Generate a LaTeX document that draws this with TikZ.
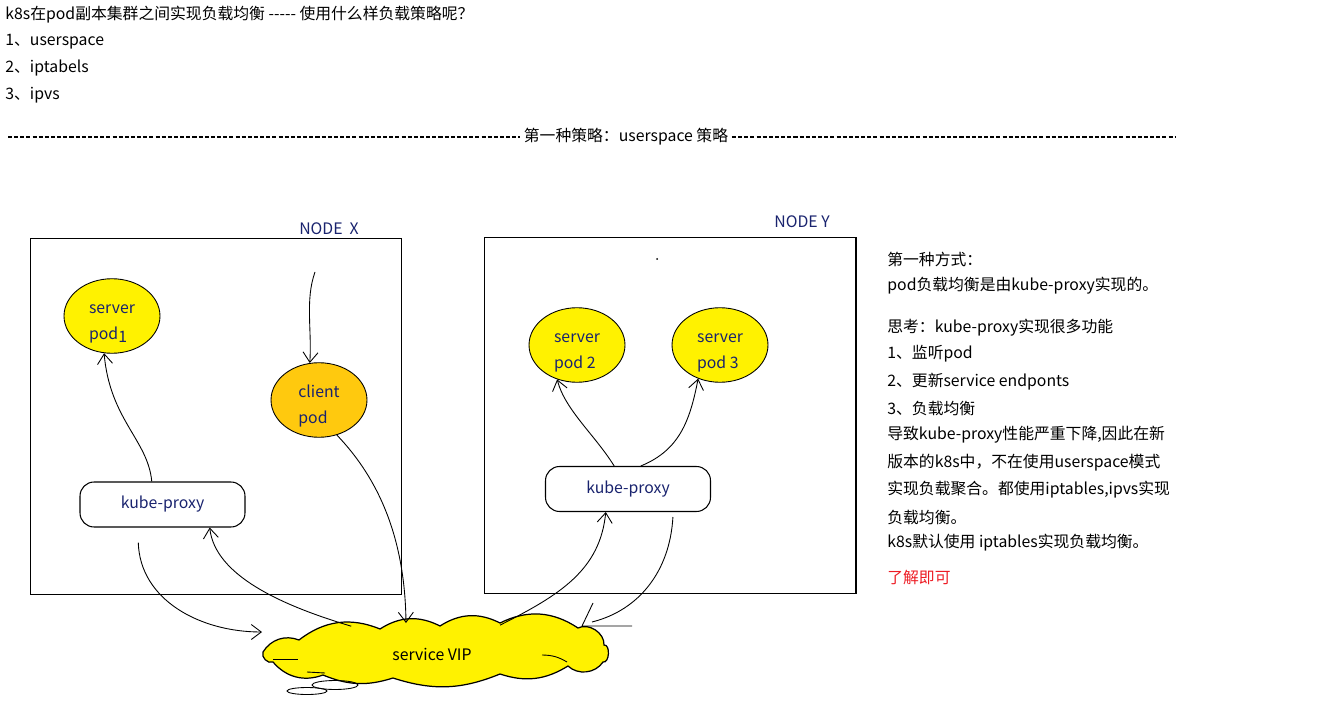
\documentclass[tikz,border=0pt]{standalone}
\usepackage{fontspec}
\setmainfont{Noto Sans CJK SC}
\usetikzlibrary{positioning,shapes.geometric,arrows.meta}
\definecolor{podyellow}{RGB}{255,242,0}
\definecolor{podorange}{RGB}{255,201,14}
\definecolor{podtext}{RGB}{25,35,110}
\definecolor{notered}{RGB}{237,28,36}
% two lines of pod text, drawn a little lower than centre
\newcommand{\podlines}[2]{\raisebox{-2.8pt}[\height][\depth]{\begin{tabular}{@{}l@{}}#1\\#2\end{tabular}}}
\tikzset{
  note/.style={anchor=west, inner sep=0pt, font=\fontsize{9}{11}\selectfont},
  pod/.style={ellipse, draw, fill=podyellow, line width=0.5pt, minimum width=1.92cm, minimum height=1.32cm,
    inner sep=0pt, text=podtext, font=\fontsize{9}{15}\selectfont},
  proxy/.style={draw, line width=0.6pt, rounded corners=8pt, minimum width=3.3cm, minimum height=0.9cm,
    text=podtext, font=\fontsize{9}{11}\selectfont},
  nodebox/.style={draw, line width=0.6pt, inner sep=0pt},
  hand/.style={line width=0.5pt, -{Straight Barb[length=2mm,width=3mm]}},
  dashline/.style={line width=0.6pt, dash pattern=on 2.3pt off 1.2pt}
}
\begin{document}
\begin{tikzpicture}[x=0.02cm, y=-0.02cm]
    \useasboundingbox (0,0) rectangle (1337,722);
    % question at the top
    \node[note] (q) at (5,15) {k8s在pod副本集群之间实现负载均衡 -{}-{}-{}-{}- 使用什么样负载策略呢？};
    \node[note] (q1) at (5,42) {1、userspace};
    \node[note] (q2) at (5,68) {2、iptabels};
    \node[note] (q3) at (5,95) {3、ipvs};

    % strategy header
    \node[inner sep=2pt, font=\fontsize{9}{11}\selectfont] (strat) at (626,137) {第一种策略：userspace 策略};
    \coordinate (dl) at (8,137);
    \coordinate (dr) at (1176,137);
    \draw[dashline] (dl) -- (strat.west);
    \draw[dashline] (strat.east) -- (dr);

    % the two nodes
    \node[nodebox, minimum width=7.44cm, minimum height=7.14cm] (boxX) at (216,416.5) {};
    \node[nodebox, minimum width=7.44cm, minimum height=7.14cm] (boxY) at (670,415.5) {};
    \node[inner sep=0pt, text=podtext, font=\fontsize{9}{11}\selectfont] (labX) at (329,229) {NODE~~X};
    \node[inner sep=0pt, text=podtext, font=\fontsize{9}{11}\selectfont] (labY) at (802,222) {NODE Y};
    \fill (657,259) circle (1);

    % pods
    \node[pod] (pod1) at (112,316) {\podlines{server}{pod\raisebox{-1.5pt}{1}}};
    \node[pod, fill=podorange] (client) at (319,400) {\podlines{client}{pod}};
    \node[pod] (pod2) at (577,345) {\podlines{server}{pod 2}};
    \node[pod] (pod3) at (720,345) {\podlines{server}{pod 3}};

    % kube-proxy
    \node[proxy] (pxX) at (162.5,504.5) {kube-proxy};
    \node[proxy] (pxY) at (628,489) {kube-proxy};

    % service VIP cloud
    \filldraw[fill=podyellow, draw=black, line width=0.7pt] (263,652) to[bend left=40] (299,640)
      to[bend left=30] (380,629) to[bend left=30] (440,626) to[bend left=30] (500,623) to[bend left=30] (578,628)
      to[bend left=60] (604,645) to[bend left=100] (603,662) to[bend left=50] (568,666) to[bend left=25] (500,674)
      to[bend left=20] (393,678) to[bend left=20] (323,675) to[bend left=35] (273,662) to[bend left=70] cycle;
    \draw[line width=0.5pt] (273,659) -- (298,659);
    \draw[line width=0.5pt] (307,672) -- (325,673);
    \draw[line width=0.5pt] (542,655) to[bend left=15] (567,662);
    \node[ellipse, minimum width=7cm, minimum height=1.24cm, inner sep=0pt,
      font=\fontsize{9}{11}\selectfont] (vip) at (432,654) {service VIP};
    \draw[line width=0.5pt] (335,685) ellipse (23 and 4.5);
    \draw[line width=0.5pt] (307,691) ellipse (20 and 3.5);

    % arrows in node X
    \coordinate (cin) at (315,272);
    \coordinate (vipin) at (262,632);
    \draw[hand] (pxX.115) .. controls (148,440) and (110,420) .. (pod1.258);
    \draw[hand] (cin) .. controls (305,300) and (312,330) .. (client.104);
    \draw[hand] (client.297) .. controls (380,480) and (405,540) .. (vip.130);
    \draw[hand, shorten <=0.3cm] (pxX.223) .. controls (140,600) and (200,632) .. (vipin);
    \draw[hand] (vip.161) .. controls (280,605) and (215,575) .. (pxX.334);

    % arrows in node Y
    \coordinate (vipne) at (592,622);
    \draw[hand] (pxY.121) .. controls (595,435) and (565,410) .. (pod2.240);
    \draw[hand] (pxY.61) .. controls (680,450) and (690,420) .. (pod3.237);
    \draw[hand] (vip.23) .. controls (560,595) and (600,570) .. (pxY.226);
    \draw[line width=0.5pt, shorten <=0.1cm] (pxY.333) .. controls (670,570) and (640,610) .. (vipne);
    \draw[line width=0.5pt] (593,603) -- (582,626) -- (632,626);

    % notes on the right
    \node[note] (n1) at (887,259) {第一种方式：};
    \node[note] (n2) at (887,286) {pod负载均衡是由kube-proxy实现的。};
    \node[note] (n3) at (887,328) {思考：kube-proxy实现很多功能};
    \node[note] (n4) at (887,354) {1、监听pod};
    \node[note] (n5) at (887,382) {2、更新service endponts};
    \node[note] (n6) at (887,408) {3、负载均衡};
    \node[note] (n7) at (887,435) {导致kube-proxy性能严重下降,因此在新};
    \node[note] (n8) at (887,463) {版本的k8s中，不在使用userspace模式};
    \node[note] (n9) at (887,490) {实现负载聚合。都使用iptables,ipvs实现};
    \node[note] (n10) at (887,517) {负载均衡。};
    \node[note] (n11) at (887,543) {k8s默认使用 iptables实现负载均衡。};
    \node[note, text=notered] (n12) at (887,578) {了解即可};
\end{tikzpicture}
\end{document}
